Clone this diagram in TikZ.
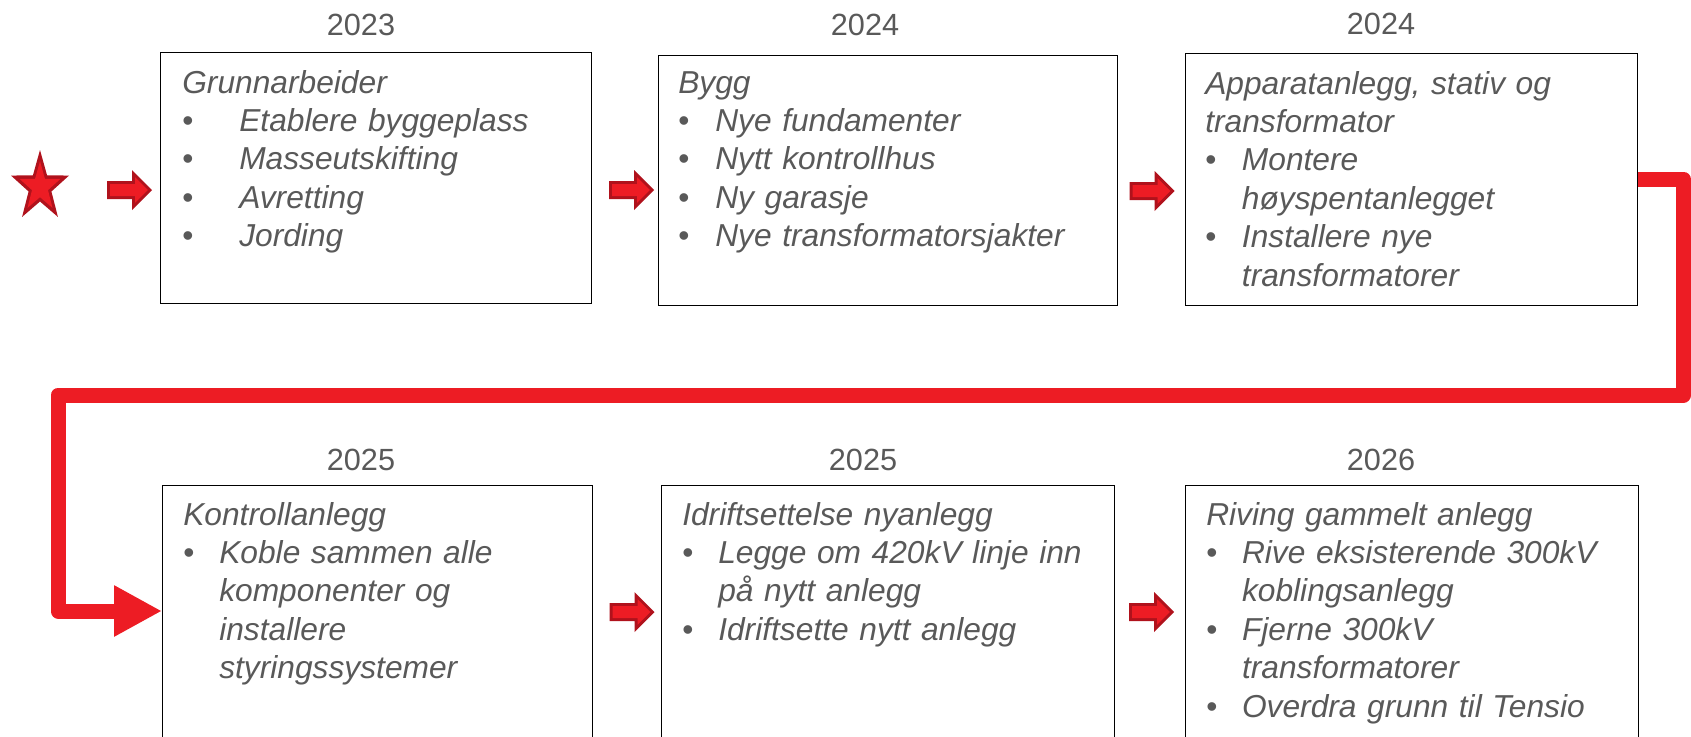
\documentclass[tikz,border=0pt]{standalone}
\usepackage{fontspec}
\setmainfont{Liberation Sans}
\usetikzlibrary{arrows.meta}
\definecolor{txt}{HTML}{595959}
\definecolor{bred}{HTML}{ED1C24}
\definecolor{dred}{HTML}{B0121C}
\newcommand{\bl}[1]{\makebox[#1][l]{\upshape\textbullet}}
\newcommand{\myblockarrow}[1]{%
  \begin{scope}[shift={(#1)}]
    \fill[dred] (-22.5,-9) -- (2.5,-9) -- (2.5,-20) -- (22.5,0) -- (2.5,20) -- (2.5,9) -- (-22.5,9) -- cycle;
    \fill[bred] (-19.5,-6) -- (5.5,-6) -- (5.5,-12.76) -- (18.26,0) -- (5.5,12.76) -- (5.5,6) -- (-19.5,6) -- cycle;
  \end{scope}}
\begin{document}
\begin{tikzpicture}[x=0.75pt,y=-0.75pt,
  box/.style={draw=black, line width=1.1pt, inner sep=0pt, anchor=north west},
  body/.style={anchor=base west, inner sep=0pt, text width=330pt, align=left, text=txt,
    font=\fontsize{23.8pt}{28.8pt}\selectfont\itshape},
  year/.style={anchor=base, inner sep=0pt, text=txt, font=\fontsize{23pt}{27pt}\selectfont},
  conn/.style={draw=bred, line width=11.25pt, line join=round, -{Triangle[length=36pt,width=36pt]}}]
\path[use as bounding box] (0,0) rectangle (1691,736);
\clip (0,0) rectangle (1691,736);

% boxes
\node[box, minimum width=323.25pt, minimum height=188.25pt] (b1) at (160,52) {};
\node[box, minimum width=344.25pt, minimum height=187.5pt] (b2) at (658,55) {};
\node[box, minimum width=339pt, minimum height=189pt] (b3) at (1185,53) {};
\node[box, minimum width=322.5pt, minimum height=210pt] (b4) at (162,485) {};
\node[box, minimum width=339.75pt, minimum height=210pt] (b5) at (661,485) {};
\node[box, minimum width=339.75pt, minimum height=210pt] (b6) at (1185,485) {};

% years
\node[year] (y1) at (361,35) {2023};
\node[year] (y2) at (865,35) {2024};
\node[year] (y3) at (1381,34) {2024};
\node[year] (y4) at (361,470) {2025};
\node[year] (y5) at (863,470) {2025};
\node[year] (y6) at (1381,470) {2026};

% texts
\node[body] (t1) at (182,93) {Grunnarbeider\\
\bl{42.75pt}Etablere byggeplass\\
\bl{42.75pt}Masseutskifting\\
\bl{42.75pt}Avretting\\
\bl{42.75pt}Jording};
\node[body] (t2) at (678,93) {Bygg\\
\bl{27.75pt}Nye fundamenter\\
\bl{27.75pt}Nytt kontrollhus\\
\bl{27.75pt}Ny garasje\\
\bl{27.75pt}Nye transformatorsjakter};
\node[body] (t3) at (1205,94) {Apparatanlegg, stativ og\\
transformator\\
\bl{27.5pt}Montere\\
\hspace*{27.5pt}høyspentanlegget\\
\bl{27.5pt}Installere nye\\
\hspace*{27.5pt}transformatorer};
\node[body] (t4) at (183,525) {Kontrollanlegg\\
\bl{27pt}Koble sammen alle\\
\hspace*{27pt}komponenter og\\
\hspace*{27pt}installere\\
\hspace*{27pt}styringssystemer};
\node[body] (t5) at (682,525) {Idriftsettelse nyanlegg\\
\bl{27pt}Legge om 420kV linje inn\\
\hspace*{27pt}på nytt anlegg\\
\bl{27pt}Idriftsette nytt anlegg};
\node[body] (t6) at (1206,525) {Riving gammelt anlegg\\
\bl{26.8pt}Rive eksisterende 300kV\\
\hspace*{26.8pt}koblingsanlegg\\
\bl{26.8pt}Fjerne 300kV\\
\hspace*{26.8pt}transformatorer\\
\bl{26.8pt}Overdra grunn til Tensio};

% star
\coordinate (st) at (40,187);
\begin{scope}[shift={(st)}]
  \fill[dred] (0,-37) -- (7.05,-11.73) -- (29.0,-11.43) -- (11.41,4.48) -- (17.93,29.93) -- (0,14.5) -- (-17.93,29.93) -- (-11.41,4.48) -- (-29.0,-11.43) -- (-7.05,-11.73) -- cycle;
  \begin{scope}[scale=0.7]
    \fill[bred] (0,-37) -- (7.05,-11.73) -- (29.0,-11.43) -- (11.41,4.48) -- (17.93,29.93) -- (0,14.5) -- (-17.93,29.93) -- (-11.41,4.48) -- (-29.0,-11.43) -- (-7.05,-11.73) -- cycle;
  \end{scope}
\end{scope}

% block arrows
\coordinate (a1) at (129.5,190);
\coordinate (a2) at (631.5,190);
\coordinate (a3) at (1152,191);
\coordinate (a4) at (632,612);
\coordinate (a5) at (1151.5,612);
\myblockarrow{a1}
\myblockarrow{a2}
\myblockarrow{a3}
\myblockarrow{a4}
\myblockarrow{a5}

% big connector
\coordinate (k1) at (1683.5,179);
\coordinate (k2) at (1683.5,395);
\coordinate (k3) at (58,395);
\coordinate (k4) at (58,611);
\draw[conn] (b3.east |- k1) -- (k1) -- (k2) -- (k3) -- (k4) -- (b4.west |- k4);
\end{tikzpicture}
\end{document}
